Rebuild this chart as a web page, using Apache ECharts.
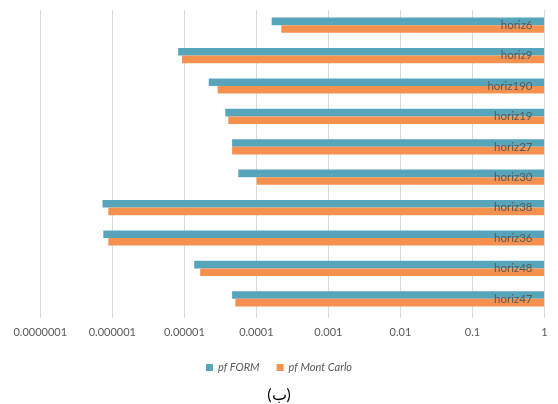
<!DOCTYPE html>
<html>
<head>
<meta charset="utf-8">
<script src="https://cdn.jsdelivr.net/npm/echarts@6/dist/echarts.min.js"></script>
<style>html,body{margin:0;padding:0;background:#fff;}#c{width:558px;height:404px;}</style>
</head>
<body>
<div id="c"></div>
<script>
var categories = ['horiz6','horiz9','horiz190','horiz19','horiz27','horiz30','horiz38','horiz36','horiz48','horiz47'];
var pfForm = [1.63e-4, 8.2e-6, 2.18e-5, 3.7e-5, 4.6e-5, 5.6e-5, 7.3e-7, 7.5e-7, 1.37e-5, 4.6e-5];
var pfMonteCarlo = [2.22e-4, 9.3e-6, 2.9e-5, 4.07e-5, 4.6e-5, 1.01e-4, 8.8e-7, 8.8e-7, 1.66e-5, 5.1e-5];
var tickLabels = ['0.0000001','0.000001','0.00001','0.0001','0.001','0.01','0.1','1'];
var seriesNames = ['pf FORM', 'pf Mont Carlo'];
var caption = '(ب)';

var font = 'Lato, "Open Sans", sans-serif';
var chart = echarts.init(document.getElementById('c'), null, {renderer: 'canvas'});
chart.setOption({
  animation: false,
  backgroundColor: '#ffffff',
  color: ['#56a5bb', '#f5914f'],
  grid: {left: 40.3, right: 13.5, top: 10, bottom: 90, containLabel: false},
  title: {
    text: caption, left: 'center', top: 382,
    textStyle: {fontSize: 16, fontWeight: 'normal', color: '#000', fontFamily: font}
  },
  legend: {
    top: 357, left: 'center',
    itemWidth: 7, itemHeight: 7, itemGap: 17, icon: 'rect',
    textStyle: {fontSize: 11, fontStyle: 'italic', color: '#595959', fontFamily: font},
    data: seriesNames
  },
  xAxis: {
    type: 'log', logBase: 10, min: 1e-7, max: 1,
    axisLine: {show: false},
    axisTick: {show: true, length: 4, lineStyle: {color: '#d9d9d9'}},
    splitLine: {show: true, lineStyle: {color: '#d9d9d9', width: 1}},
    minorTick: {show: false},
    axisLabel: {
      color: '#595959', fontSize: 11, fontFamily: font, margin: 13,
      formatter: function (v) {
        var i = Math.round(Math.log10(v)) + 7;
        return tickLabels[i] !== undefined ? tickLabels[i] : '';
      }
    }
  },
  yAxis: {
    type: 'category', data: categories, inverse: true, position: 'right',
    axisLine: {show: true, lineStyle: {color: '#d9d9d9'}},
    axisTick: {show: false},
    axisLabel: {inside: true, margin: 12, color: '#595959', fontSize: 11.5, fontFamily: font},
    z: 10
  },
  series: [
    {name: seriesNames[0], type: 'bar', data: pfForm, barGap: '0%', barCategoryGap: '50%'},
    {name: seriesNames[1], type: 'bar', data: pfMonteCarlo, barGap: '0%', barCategoryGap: '50%'}
  ]
});
</script>
</body>
</html>
